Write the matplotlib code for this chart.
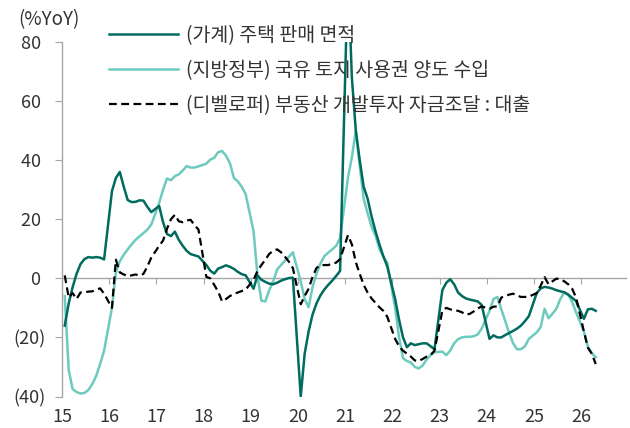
import numpy as np
import matplotlib
matplotlib.use('Agg')
from matplotlib import pyplot as plt

plt.rcParams['font.family'] = ['Noto Sans CJK KR', 'DejaVu Sans']
plt.rcParams['font.weight'] = 'light'

# Monthly cumulative YoY (%), Feb-Dec each year (Jan-Feb combined), 2015-02 .. 2026-05
years = list(range(2015, 2026))
months = list(range(2, 13))
last_year_months = [2, 3, 4, 5]

house_sales = [
    -16, -8.5, -3, 1.5, 4.8, 6.5, 7.2, 7, 7.2, 7, 6.4,            # 2015
    29.5, 34, 36, 31, 26.5, 25.8, 25.9, 26.4, 26.3, 24.2, 22.4,   # 2016
    24.5, 19, 15, 14.3, 15.8, 13, 11, 9.3, 8.2, 7.8, 7.4,         # 2017
    4.5, 2.6, 1.6, 3.3, 3.8, 4.4, 3.9, 3.2, 2.2, 1.4, 1.0,        # 2018
    -3.5, 1, -0.5, -1.2, -1.8, -2, -1.5, -0.8, -0.3, 0.1, 0.2,    # 2019
    -40, -25.5, -18, -12.3, -8.5, -5.8, -3.8, -2.2, -0.8, 0.8, 2.5,  # 2020
    104, 68, 50, 40, 31, 27, 21, 16, 11.5, 7.5, 4,                # 2021
    -7, -14, -20, -23.3, -22, -22.6, -22.3, -22, -22, -23, -24,   # 2022
    -4, -1.5, -0.3, -2, -4.8, -6, -6.8, -7.2, -7.5, -7.8, -9,     # 2023
    -20.5, -19.3, -20, -20, -19.2, -18.5, -17.8, -17, -16, -14.5, -12.8,  # 2024
    -5, -3.4, -2.9, -3.1, -3.5, -4, -4.4, -4.7, -5.5, -6.6, -7.7,  # 2025
    -13.7, -10.5, -10.3, -11,                                     # 2026
]

land_revenue = [
    -6, -31, -37.5, -38.5, -39, -38.8, -37.8, -35.8, -33, -29, -24.5,
    -10, 2, 5.8, 8, 9.8, 11.5, 13, 14.2, 15.3, 16.5, 18.2,
    25.5, 30, 33.8, 33.2, 34.6, 35.2, 36.5, 38, 37.5, 37.5, 37.9,
    38.8, 40.2, 40.8, 42.7, 43.1, 41.5, 39, 34, 32.8, 31, 28.5,
    16, 1, -7.6, -7.8, -4, -1, 3, 4.5, 6, 7.3, 8.8,
    -1, -7, -9.8, -3, 1.5, 5, 7.5, 8.7, 9.8, 11, 13.5,
    34, 41, 50, 38, 27, 22, 17.5, 14.5, 10, 7.2, 5.3,
    -10, -20, -27, -28, -28.5, -30, -30.5, -29.5, -27.5, -26, -25,
    -24.8, -26, -24.5, -22, -20.6, -20, -19.8, -19.8, -19.6, -19, -17,
    -11, -7, -6.3, -10.5, -14.5, -18.5, -22, -24, -24, -23, -20.5,
    -18.3, -16.5, -10.3, -13.5, -12, -10.3, -7, -4.8, -5.5, -8, -11.5,
    -18, -23, -25.3, -26.7,
]

dev_loans = [
    1, -6.5, -5, -7, -4.8, -4.7, -4.5, -4.4, -3.8, -3.4, -5.2,
    -10, 6.3, 2, 1.3, 0.8, 1, 1.3, 1, 1.5, 4, 7,
    11, 12.8, 16.8, 20, 21.5, 19.3, 19, 19.6, 19.8, 18, 16.5,
    0.5, 0, -2.2, -4.5, -7.8, -7, -6, -5.3, -4.8, -4.3, -3.8,
    -0.5, 2.5, 4.5, 6.3, 8.3, 9.3, 9.8, 8.8, 7.3, 5.6, 3.5,
    -8.8, -6, -3.5, 0.5, 3.5, 4.4, 4.5, 4.5, 5, 5.3, 6.5,
    14.6, 11.5, 5.5, 1.5, -2.2, -4.8, -6.8, -8.3, -9.8, -11, -13,
    -20.5, -23, -24.5, -25.5, -26.5, -27.8, -28, -27.3, -26.5, -26, -24.5,
    -11, -10, -10.5, -10.8, -11, -11.5, -12.3, -12, -11.2, -10.2, -9.5,
    -10.3, -9.6, -9.5, -6.5, -6, -5.5, -5.2, -5.8, -6.3, -6.3, -6.2,
    -5, -2.5, 0.4, -2, -1, -0.1, -0.3, -1, -2, -3.5, -6.5,
    -18, -23.5, -25.5, -29,
]

labels = ['(가계) 주택 판매 면적',
          '(지방정부) 국유 토지 사용권 양도 수입',
          '(디벨로퍼) 부동산 개발투자 자금조달 : 대출']
tick_years = list(range(2015, 2027))
ytick_vals = [-40, -20, 0, 20, 40, 60, 80]

# Month positions on a decimal-year axis
x = [y + (m - 1.3) / 12 for y in years for m in months]
x += [2026 + (m - 1.3) / 12 for m in last_year_months]
x = np.array(x)

dark = '#006b5e'
light = '#6dcbbd'
gray = '#a6a6a6'
txt = '#333333'

fig = plt.figure(figsize=(6.3, 4.28), dpi=100)
ax = fig.add_axes([62 / 630, 1 - 396.5 / 428, 564 / 630, 354.5 / 428])

ax.plot(x, house_sales, color=dark, lw=1.8, label=labels[0], zorder=4)
ax.plot(x, land_revenue, color=light, lw=1.8, label=labels[1], zorder=3)
ax.plot(x, dev_loans, color='black', lw=1.6, ls=(0, (3.5, 2.0)), label=labels[2], zorder=5)

ax.set_xlim(2015, 2026.95)
ax.set_ylim(-40, 80)

ax.set_yticks(ytick_vals)
ax.set_yticklabels([('(%d)' % -v) if v < 0 else ('%d ' % v) for v in ytick_vals])
ax.set_xticks(tick_years)
ax.set_xticklabels(['%02d' % (y % 100) for y in tick_years])

for s in ['top', 'right', 'bottom']:
    ax.spines[s].set_visible(False)
ax.spines['left'].set_color(gray)
ax.spines['left'].set_linewidth(1.0)
ax.tick_params(axis='y', direction='out', length=5, color=gray, labelsize=13,
               labelcolor=txt, pad=7)
ax.tick_params(axis='x', length=0, labelsize=13, labelcolor=txt, pad=8)

# zero line acting as the x axis, with year ticks
sec = ax.secondary_xaxis(0, transform=ax.transData)
sec.set_xticks(tick_years)
sec.tick_params(direction='out', length=4, color=gray, labelbottom=False)
sec.spines['bottom'].set_color(gray)
sec.spines['bottom'].set_linewidth(1.0)

fig.text(18 / 630, 1 - 20 / 428, '(%YoY)', fontsize=13.5, color=txt, va='center', ha='left')

leg = ax.legend(loc='upper left', bbox_to_anchor=(109 / 630, 1 - 25 / 428),
                bbox_transform=fig.transFigure, frameon=False, fontsize=14,
                handlelength=3.55, handletextpad=0.42, labelspacing=0.72,
                borderpad=0, borderaxespad=0)
for t in leg.get_texts():
    t.set_color(txt)

plt.savefig('out.png', dpi=100)
